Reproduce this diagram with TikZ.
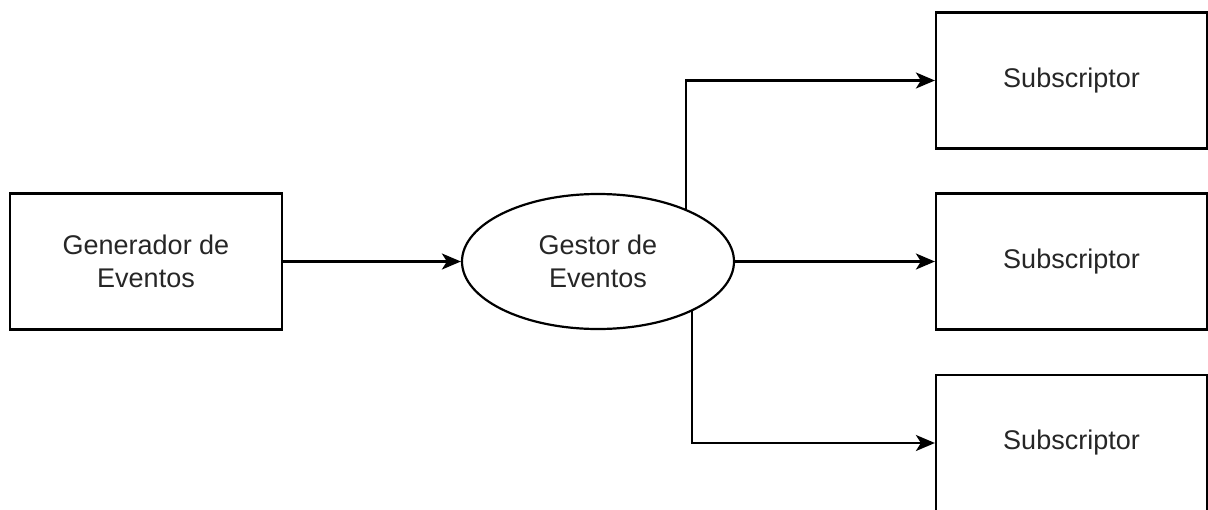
\documentclass[tikz,border=0pt]{standalone}
\usepackage{fontspec}
\setmainfont{Liberation Sans}
\usetikzlibrary{shapes.geometric,arrows.meta}
\begin{document}
\begin{tikzpicture}[x=1pt,y=-1pt,
  box/.style={draw=black,line width=2.2pt,rectangle,minimum width=272pt,minimum height=136pt,inner sep=0pt,align=center,text=black!85,font=\fontsize{27}{32.6}\selectfont},
  oval/.style={draw=black,line width=2.2pt,ellipse,minimum width=272pt,minimum height=135pt,inner sep=0pt,align=center,text=black!85,font=\fontsize{27}{32.6}\selectfont},
  conn/.style={draw=black,line width=2.2pt,-{Stealth[length=19pt,width=16pt,inset=5pt]}}]
\clip (0,0) rectangle (1208,509);
\fill[white] (0,0) rectangle (1208,509);
\node[box] (gen) at (146,261.5) {Generador de\\Eventos};
\node[oval] (gestor) at (598,261.5) {Gestor de\\Eventos};
\node[box,minimum width=271pt] (s1) at (1071.5,80.5) {Subscriptor};
\node[box,minimum width=271pt] (s2) at (1071.5,261.5) {Subscriptor};
\node[box,minimum width=271pt] (s3) at (1071.5,443) {Subscriptor};
\draw[conn] (gen.east) -- (gestor.west);
\draw[conn] (gestor.31) |- (s1.west);
\draw[conn] (gestor.east) -- (s2.west);
\draw[conn] (gestor.-28.3) |- (s3.west);
\end{tikzpicture}
\end{document}
